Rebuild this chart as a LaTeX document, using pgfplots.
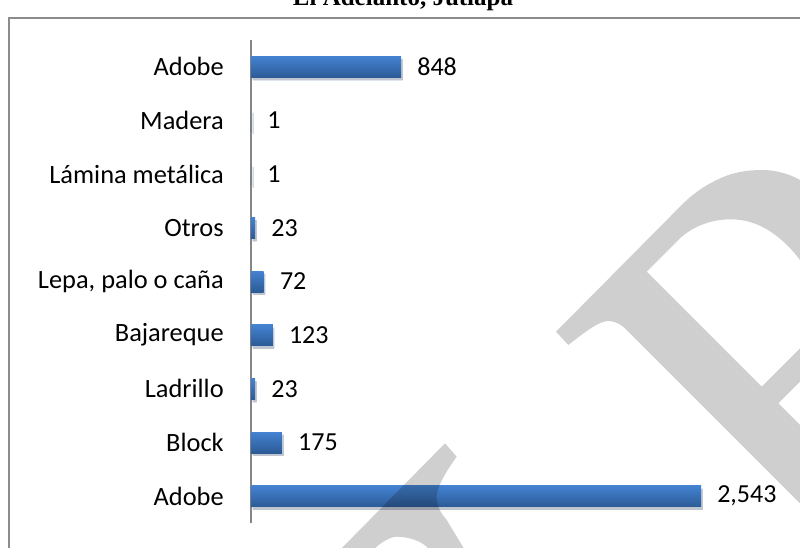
\documentclass[border=0pt]{standalone}
\usepackage{fontspec}
\setmainfont{Carlito}
\newfontfamily\titlefont{Liberation Serif}
\usepackage{pgfplots}
\pgfplotsset{compat=1.18}
\usetikzlibrary{shadows}
\definecolor{barTop}{HTML}{4482D2}
\definecolor{barBot}{HTML}{2C5B96}
\definecolor{frameGray}{HTML}{8C8C8C}
\definecolor{axisGray}{HTML}{868686}
\tikzset{mybar/.style={draw=none, top color=barTop, bottom color=barBot,
  drop shadow={shadow xshift=1.2pt, shadow yshift=-2.2pt, opacity=0.15, fill=black}}}
\begin{document}
\begin{tikzpicture}
\useasboundingbox (0,0) rectangle (600pt,410.25pt);
\clip (0,0) rectangle (600pt,410.25pt);
\fill[white] (0,0) rectangle (600pt,410.25pt);
\begin{scope}[shift={(0pt,410.25pt)}, x=0.75pt, y=-0.75pt]
  \draw[frameGray, line width=1.5pt] (8.5,18) rectangle (830,580);
  \node[anchor=base, inner sep=0pt, font=\titlefont\bfseries\fontsize{18.75pt}{20pt}\selectfont] at (403,6) {El Adelanto, Jutiapa};
\end{scope}
\begin{axis}[
  at={(188.25pt,18pt)}, anchor=south west,
  scale only axis, width=337.5pt, height=362.25pt,
  xmin=0, xmax=2543, ymin=-0.5, ymax=8.5,
  axis x line=none, axis y line*=left,
  axis line style={axisGray, line width=0.9pt},
  ytick={0,...,8},
  yticklabels={Adobe, Block, Ladrillo, Bajareque, {Lepa, palo o caña}, Otros, Lámina metálica, Madera, Adobe},
  major tick length=0pt,
  yticklabel style={anchor=east, inner sep=0pt, xshift=-20.25pt, font=\fontsize{19.8pt}{24pt}\selectfont, text=black},
  xbar, bar width=15.75pt, bar shift=0pt,
  clip=false,
  point meta=x,
  nodes near coords={\pgfmathprintnumber[1000 sep={,}, assume math mode=true]{\pgfplotspointmeta}},
  nodes near coords style={anchor=west, inner sep=0pt, xshift=12pt, font=\fontsize{19.5pt}{24pt}\selectfont, text=black},
]
\addplot[mybar] coordinates {(2543,0)};
\addplot[mybar] coordinates {(175,1)};
\addplot[mybar] coordinates {(23,2)};
\addplot[mybar] coordinates {(123,3)};
\addplot[mybar] coordinates {(72,4)};
\addplot[mybar] coordinates {(23,5)};
\addplot[mybar] coordinates {(1,6)};
\addplot[mybar] coordinates {(1,7)};
\addplot[mybar] coordinates {(848,8)};
\end{axis}
\begin{scope}[shift={(0pt,410.25pt)}, x=0.75pt, y=-0.75pt]
  \fill[black, opacity=0.19]
    (556,331.7) -- (568.3,345) .. controls (585,332) and (600,320) .. (610,321)
    .. controls (617,322) and (622,325) .. (626.7,330) -- (810,513.3) -- (810,435)
    -- (778.3,403.3) -- (810,371.7) -- (810,338.3) -- (761.7,386.7) -- (646.7,271.7)
    -- (680,238.3) .. controls (700,220) and (730,215) .. (753,223)
    .. controls (768,228) and (785,240) .. (800,260) -- (810,272) -- (810,185)
    -- (800,180) .. controls (790,174) and (775,170) .. (763,170)
    .. controls (745,170) and (730,173) .. (716.7,180)
    .. controls (700,188) and (688,198) .. (676.7,210) -- cycle;
  \fill[black, opacity=0.19]
    (445,443.3) -- (456.7,456.7) .. controls (447,470) and (438,485) .. (436.7,495)
    .. controls (436,505) and (440,512) .. (446.7,520) -- (466,552) -- (430,552)
    -- (426.7,546.7) .. controls (420,541) and (410,537) .. (396.7,536.7)
    .. controls (390,537) and (382,542) .. (376.7,546.7) -- (373,552) -- (338,552) -- cycle;
\end{scope}
\end{tikzpicture}
\end{document}
